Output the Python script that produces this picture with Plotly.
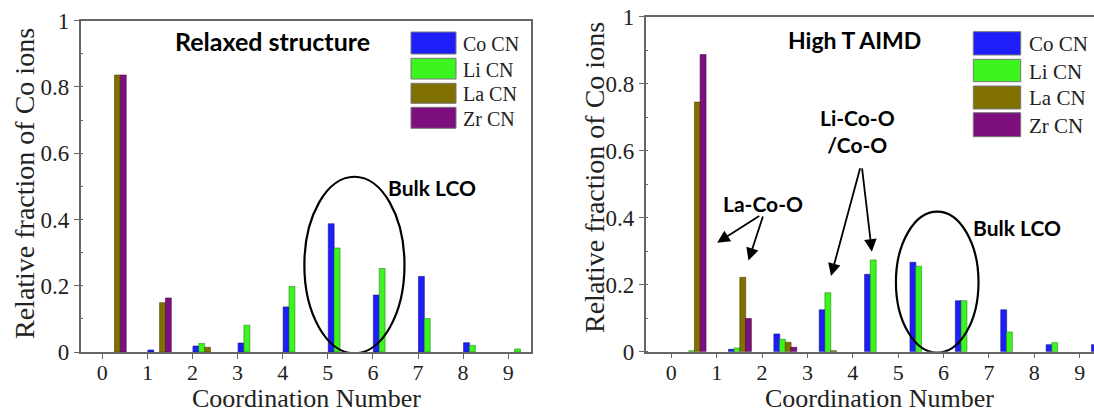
import plotly.graph_objects as go

# ---------------- data ----------------
coordination_number = [0, 1, 2, 3, 4, 5, 6, 7, 8, 9]
series_names = ["Co CN", "Li CN", "La CN", "Zr CN"]

relaxed_co = [0.0, 0.006, 0.018, 0.027, 0.136, 0.387, 0.172, 0.228, 0.028, 0.0]
relaxed_li = [0.0, 0.0, 0.026, 0.081, 0.198, 0.314, 0.252, 0.101, 0.020, 0.009]
relaxed_la = [0.836, 0.149, 0.014, 0.0, 0.0, 0.0, 0.0, 0.0, 0.0, 0.0]
relaxed_zr = [0.836, 0.163, 0.0, 0.0, 0.0, 0.0, 0.0, 0.0, 0.0, 0.0]

aimd_co = [0.0, 0.007, 0.053, 0.125, 0.231, 0.267, 0.152, 0.125, 0.021, 0.021]
aimd_li = [0.003, 0.011, 0.037, 0.176, 0.274, 0.255, 0.152, 0.059, 0.027, 0.0]
aimd_la = [0.745, 0.222, 0.028, 0.003, 0.0, 0.0, 0.0, 0.0, 0.0, 0.0]
aimd_zr = [0.887, 0.099, 0.013, 0.0, 0.0, 0.0, 0.0, 0.0, 0.0, 0.0]

y_tick_vals = [0, 0.2, 0.4, 0.6, 0.8, 1]
y_tick_text = ["0", "0.2", "0.4", "0.6", "0.8", "1"]
x_tick_text = [str(v) for v in coordination_number]

# ---------------- style ----------------
W, H = 1094, 414
colors = ["#1e1efa", "#3cf51e", "#7f7000", "#7e0f7e"]
edge = ["#10108a", "#1f8a10", "#4a4100", "#4a084a"]
bar_w = 0.13
left_offsets = [0.01, 0.14, 0.27, 0.40]
right_offsets = [0.26, 0.385, 0.51, 0.635]
SERIF = "Liberation Serif"
SANS = "Lato"
AXCOL = "#666666"
YTICKFONT = dict(family=SERIF, size=23, color="#222222")
XTICKFONT = dict(family=SERIF, size=22, color="#222222")


def pxx(x):
    return x / W


def pxy(y):
    return 1 - y / H


def nz(vals):
    return [v if v > 0 else None for v in vals]


fig = go.Figure()

panels = [
    ("x", "y", [relaxed_co, relaxed_li, relaxed_la, relaxed_zr], left_offsets),
    ("x2", "y2", [aimd_co, aimd_li, aimd_la, aimd_zr], right_offsets),
]
for xa, ya, vals, offs in panels:
    for i, name in enumerate(series_names):
        fig.add_trace(go.Bar(
            x=coordination_number, y=nz(vals[i]), name=name,
            xaxis=xa, yaxis=ya, width=bar_w, offset=offs[i],
            marker=dict(color=colors[i], line=dict(color=edge[i], width=0.6)),
            showlegend=False,
        ))


def axis(**kw):
    d = dict(
        showline=True, linecolor=AXCOL, linewidth=1.5, showgrid=False, zeroline=False,
        ticks="outside", ticklen=5, tickwidth=1.2, tickcolor=AXCOL, automargin=False,
    )
    d.update(kw)
    return d


fig.update_layout(
    width=W, height=H, margin=dict(l=0, r=0, t=0, b=0, pad=0, autoexpand=False),
    paper_bgcolor="white", plot_bgcolor="white",
    font=dict(family=SERIF, color="#222222"),
    barmode="overlay", showlegend=False,
    xaxis=axis(domain=[pxx(80.7), pxx(530.5)], range=[-0.479, 9.494], anchor="y",
               tickvals=coordination_number, ticktext=x_tick_text, mirror=True,
               tickfont=XTICKFONT, ticklabelstandoff=-5),
    yaxis=axis(domain=[pxy(352), pxy(20.7)], range=[0, 1], anchor="x",
               tickvals=y_tick_vals, ticktext=y_tick_text, mirror=True, tickfont=YTICKFONT,
               minor=dict(ticks="inside", ticklen=3, tickcolor=AXCOL, dtick=0.1, tick0=0)),
    xaxis2=axis(domain=[pxx(645.7), 1.0], range=[-0.564, 9.315], anchor="y2",
                tickvals=coordination_number, ticktext=x_tick_text, mirror=True,
                tickfont=XTICKFONT, ticklabelstandoff=-5),
    yaxis2=axis(domain=[pxy(351.7), pxy(16.7)], range=[0, 1], anchor="x2",
                tickvals=y_tick_vals, ticktext=y_tick_text, mirror=False, tickfont=YTICKFONT,
                minor=dict(ticks="inside", ticklen=3, tickcolor=AXCOL, dtick=0.1, tick0=0)),
)

# ---------------- axis titles ----------------
title_font = dict(family=SERIF, size=26, color="#222222")
for xc, yc in [(306, 398), (879.5, 398)]:
    fig.add_annotation(text="Coordination Number", x=pxx(xc), y=pxy(yc), xref="paper", yref="paper",
                       showarrow=False, font=title_font, xanchor="center", yanchor="middle")
for xc, yc in [(24, 184), (594, 178)]:
    fig.add_annotation(text="Relative fraction of Co ions", x=pxx(xc), y=pxy(yc), xref="paper", yref="paper",
                       showarrow=False, font=dict(family=SERIF, size=28, color="#222222"),
                       textangle=-90, xanchor="center", yanchor="middle")

# ---------------- legends (drawn boxes + text) ----------------
legend_boxes = [
    (411, 456, [(32, 54), (58.3, 79), (83.3, 103.3), (107.3, 128.3)], 461, 20),
    (973.3, 1020.7, [(31.7, 55), (59.3, 81.7), (86, 109), (112.7, 136.7)], 1026.7, 21),
]
for x0, x1, rows, tx, fs in legend_boxes:
    for i, (y0, y1) in enumerate(rows):
        fig.add_shape(type="rect", xref="paper", yref="paper",
                      x0=pxx(x0), x1=pxx(x1), y0=pxy(y1), y1=pxy(y0),
                      fillcolor=colors[i], line=dict(color="#777777", width=1))
        fig.add_annotation(text=series_names[i], x=pxx(tx), y=pxy((y0 + y1) / 2 + 1),
                           xref="paper", yref="paper", showarrow=False, xanchor="left",
                           yanchor="middle", font=dict(family=SERIF, size=fs, color="#222222"))

# ---------------- text annotations ----------------
lab = dict(family=SANS, size=21, color="black")
fig.add_annotation(text="<b>Relaxed structure</b>", x=3.78, y=0.94, xref="x", yref="y",
                   showarrow=False, font=dict(family=SANS, size=25, color="black"))
fig.add_annotation(text="<b>Bulk LCO</b>", x=7.31, y=0.496, xref="x", yref="y",
                   showarrow=False, font=lab)
fig.add_annotation(text="<b>High T AIMD</b>", x=4.03, y=0.93, xref="x2", yref="y2",
                   showarrow=False, font=dict(family=SANS, size=23, color="black"))
fig.add_annotation(text="<b>Li-Co-O<br>/Co-O</b>", x=4.10, y=0.658, xref="x2", yref="y2",
                   showarrow=False, font=lab)
fig.add_annotation(text="<b>La-Co-O</b>", x=2.01, y=0.443, xref="x2", yref="y2",
                   showarrow=False, font=lab)
fig.add_annotation(text="<b>Bulk LCO</b>", x=7.61, y=0.371, xref="x2", yref="y2",
                   showarrow=False, font=lab)

# ellipses
fig.add_shape(type="circle", xref="x", yref="y", x0=4.48, x1=6.70, y0=-0.004, y1=0.529,
              line=dict(color="black", width=2.2))
fig.add_shape(type="circle", xref="x2", yref="y2", x0=4.95, x1=6.77, y0=-0.003, y1=0.418,
              line=dict(color="black", width=2.2))

# arrows (tip x,y ; tail ax,ay)
arrows = [
    (1.01, 0.325, 1.97, 0.408),
    (1.70, 0.272, 2.03, 0.408),
    (3.52, 0.226, 4.17, 0.552),
    (4.42, 0.2985, 4.20, 0.552),
]
for x, y, ax, ay in arrows:
    fig.add_annotation(x=x, y=y, ax=ax, ay=ay, xref="x2", yref="y2", axref="x2", ayref="y2",
                       text="", showarrow=True, arrowhead=2, arrowsize=1.4, arrowwidth=1.8,
                       arrowcolor="black")

fig.write_html(
    "out.html",
    config={"displayModeBar": False},
    post_script="document.body.style.margin='0';document.body.style.overflow='hidden';",
)
